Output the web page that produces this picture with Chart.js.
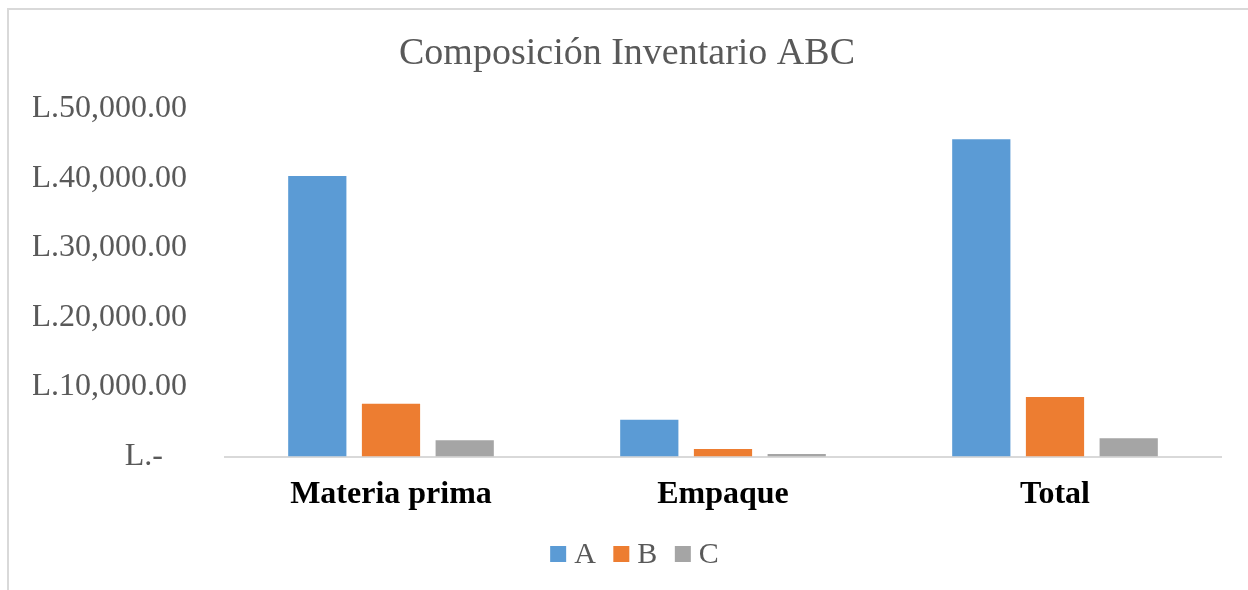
<!DOCTYPE html>
<html>
<head>
<meta charset="utf-8">
<title>Composición Inventario ABC</title>
<script src="https://cdn.jsdelivr.net/npm/chart.js@4.4.1/dist/chart.umd.min.js"></script>
<style>
  html, body { margin: 0; padding: 0; background: #ffffff; }
  #wrap { width: 1248px; height: 590px; position: relative; }
</style>
</head>
<body>
<div id="wrap"><canvas id="chart" width="1248" height="590"></canvas></div>
<script>
// Inventory categories and ABC classification values (Lempiras)
const categories = ['Materia prima', 'Empaque', 'Total'];
const seriesNames = ['A', 'B', 'C'];
const valuesA = [40360, 5300, 45640];
const valuesB = [7600, 1080, 8560];
const valuesC = [2330, 360, 2620];
const seriesColors = ['#5B9BD5', '#ED7D31', '#A5A5A5'];
const yTickValues = [0, 10000, 20000, 30000, 40000, 50000];
const yTickLabels = ['L.-   ', 'L.10,000.00', 'L.20,000.00', 'L.30,000.00', 'L.40,000.00', 'L.50,000.00'];

const serif = "'Liberation Serif', 'Times New Roman', serif";

// Thin frame around the chart (top and left edges)
const framePlugin = {
  id: 'frame',
  beforeDraw(chart) {
    const ctx = chart.ctx;
    ctx.save();
    ctx.fillStyle = '#ffffff';
    ctx.fillRect(0, 0, chart.width, chart.height);
    ctx.strokeStyle = '#d9d9d9';
    ctx.lineWidth = 2;
    ctx.beginPath();
    ctx.moveTo(8, chart.height);
    ctx.lineTo(8, 9);
    ctx.lineTo(chart.width, 9);
    ctx.stroke();
    ctx.restore();
  }
};

// Compact legend: square swatch followed closely by the series name
const compactLegend = {
  id: 'compactLegend',
  afterDraw(chart) {
    const ctx = chart.ctx;
    const box = 16, gapText = 8, gapItem = 17.5;
    const centerX = chart.width / 2 + 10.5;
    const centerY = 554;
    ctx.save();
    ctx.font = "30px " + serif;
    ctx.textBaseline = 'middle';
    ctx.textAlign = 'left';
    const items = chart.data.datasets.map(ds => ({
      text: ds.label, color: ds.backgroundColor, w: ctx.measureText(ds.label).width
    }));
    let total = 0;
    items.forEach((it, i) => { total += box + gapText + it.w + (i ? gapItem : 0); });
    let x = centerX - total / 2;
    items.forEach(it => {
      ctx.fillStyle = it.color;
      ctx.fillRect(x, centerY - box / 2, box, box);
      x += box + gapText;
      ctx.fillStyle = '#595959';
      ctx.fillText(it.text, x, centerY + 1);
      x += it.w + gapItem;
    });
    ctx.restore();
  }
};

new Chart(document.getElementById('chart'), {
  type: 'bar',
  data: {
    labels: categories,
    datasets: [
      { label: seriesNames[0], data: valuesA, backgroundColor: seriesColors[0] },
      { label: seriesNames[1], data: valuesB, backgroundColor: seriesColors[1] },
      { label: seriesNames[2], data: valuesC, backgroundColor: seriesColors[2] }
    ]
  },
  options: {
    responsive: false,
    animation: false,
    devicePixelRatio: 1,
    datasets: {
      bar: { categoryPercentage: 0.666, barPercentage: 0.79 }
    },
    layout: { padding: { left: 33, right: 27, top: 0, bottom: 57.5 } },
    plugins: {
      title: {
        display: true,
        text: 'Composición Inventario ABC',
        color: '#595959',
        font: { family: serif, size: 38, weight: 'normal' },
        padding: { top: 31, bottom: 32.4 }
      },
      legend: { display: false },
      tooltip: { enabled: false }
    },
    scales: {
      x: {
        grid: { display: false, drawTicks: false },
        border: { display: true, color: '#d9d9d9', width: 2 },
        ticks: {
          color: '#000000',
          font: { family: serif, size: 32, weight: 'bold' },
          padding: 19,
          maxRotation: 0
        },
        afterFit(scale) { scale.height = 76; }
      },
      y: {
        min: 0,
        max: 50000,
        grid: { display: false, drawTicks: false },
        border: { display: false },
        afterBuildTicks(scale) {
          scale.ticks = yTickValues.map(v => ({ value: v }));
        },
        ticks: {
          color: '#595959',
          font: { family: serif, size: 32 },
          padding: 38,
          callback(value) {
            const i = yTickValues.indexOf(value);
            return i >= 0 ? yTickLabels[i] : '';
          }
        },
        afterFit(scale) { scale.width = 192; }
      }
    }
  },
  plugins: [framePlugin, compactLegend]
});
</script>
</body>
</html>
